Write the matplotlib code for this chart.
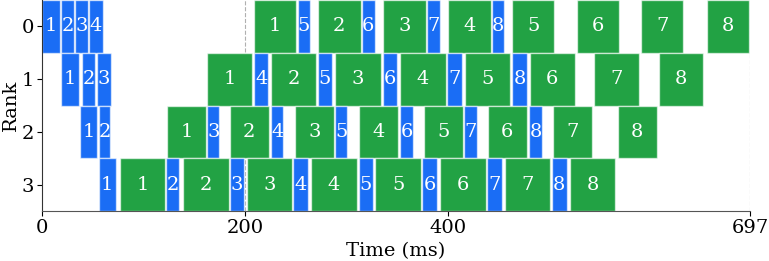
import matplotlib.pyplot as plt

plt.rcParams['font.family'] = 'DejaVu Serif'

# (start, end) in ms, per rank; forward = blue, backward = green
fwd_start = [
    [0, 18.7, 32.5, 46.6, 251.7, 314.7, 378.7, 442.7],
    [18.7, 39.1, 53.9, 208.7, 271.7, 335.7, 398.7, 462.7],
    [37.7, 55.8, 162.7, 225.4, 288.7, 352.7, 415.7, 479.7],
    [55.8, 121.8, 184.8, 247.4, 311.8, 374.4, 438.1, 501.8],
]
fwd_end = [
    [17.7, 31.5, 45.6, 59.8, 263.8, 327.8, 391.8, 454.8],
    [36.7, 52.5, 67.6, 222.8, 285.5, 349.2, 413.2, 477.8],
    [53.9, 67.2, 174.5, 237.6, 300.6, 365.2, 428.2, 492.5],
    [72.6, 134.9, 199.2, 261.6, 325.6, 389.2, 452.6, 516.5],
]
bwd_start = [
    [208.7, 271.7, 335.7, 399.7, 463.0, 526.7, 589.7, 654.7],
    [162.7, 225.4, 288.7, 352.7, 416.4, 480.1, 543.7, 607.7],
    [122.8, 184.8, 248.8, 311.8, 375.8, 438.8, 502.8, 566.8],
    [76.8, 138.8, 201.5, 264.8, 328.1, 391.5, 455.5, 519.5],
]
bwd_end = [
    [249.8, 313.7, 377.7, 441.7, 504.3, 568.3, 631.3, 696.3],
    [207.0, 269.7, 333.7, 397.4, 460.7, 524.4, 587.4, 651.0],
    [161.5, 223.5, 287.5, 350.8, 414.8, 477.5, 541.5, 605.5],
    [120.8, 183.8, 246.4, 309.8, 373.4, 436.8, 500.1, 564.4],
]
micro = [1, 2, 3, 4, 5, 6, 7, 8]
ranks = [0, 1, 2, 3]
total = 697

blue = '#1a6df5'
green = '#22a244'

fig = plt.figure(figsize=(7.69, 2.61), dpi=100)
ax = fig.add_axes([42/769, 50/261, 708/769, 211/261])

for r in ranks:
    for i, m in enumerate(micro):
        for s, e, c in [(fwd_start[r][i], fwd_end[r][i], blue),
                        (bwd_start[r][i], bwd_end[r][i], green)]:
            ax.barh(r, e - s, left=s, height=1.0, color=c,
                    edgecolor=(1, 1, 1, 0.6), linewidth=1, zorder=2)
            ax.text((s + e) / 2, r, str(m), color='white', fontsize=14,
                    ha='center', va='center', zorder=3)

ax.axvline(200, color='#b0b0b0', ls='--', lw=0.8, zorder=1)
ax.axvline(total, color='#b0b0b0', ls='--', lw=0.8, zorder=1)

ax.set_xlim(0, total)
ax.set_ylim(3.5, -0.5)
ax.set_xticks([0, 200, 400, total])
ax.set_yticks(ranks)
ax.tick_params(labelsize=14, length=3.5, pad=2)
ax.set_xlabel('Time (ms)', fontsize=14, labelpad=4)
ax.set_ylabel('Rank', fontsize=14)
ax.yaxis.set_label_coords(-0.031, 0.5)
ax.spines['top'].set_visible(False)
ax.spines['right'].set_visible(False)
ax.spines['left'].set_color('#333333')
ax.spines['bottom'].set_color('#555555')

fig.savefig('out.png', dpi=100)
